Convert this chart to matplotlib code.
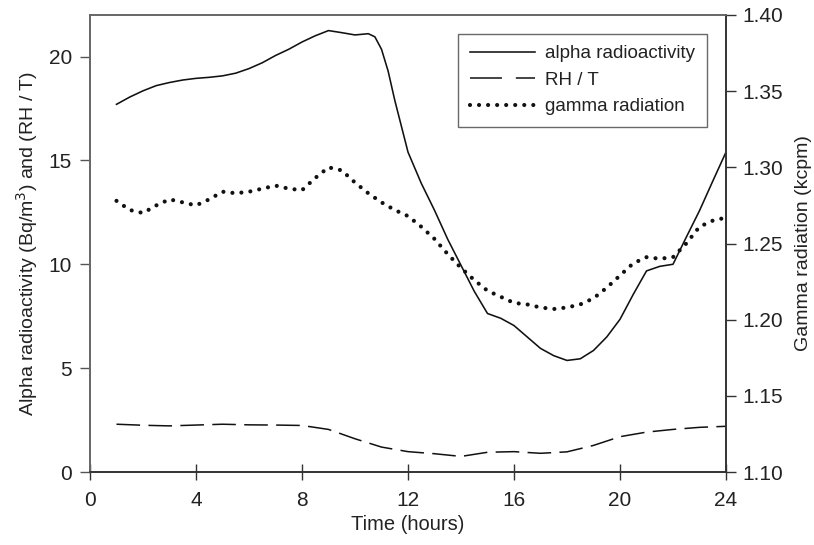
import matplotlib
matplotlib.use("Agg")
import matplotlib.pyplot as plt
from matplotlib.lines import Line2D

plt.rcParams['font.family'] = ['Liberation Sans', 'DejaVu Sans']
plt.rcParams['lines.scale_dashes'] = False

# Data
hours_alpha = [1, 1.5, 2, 2.5, 3, 3.5, 4, 4.5, 5, 5.5, 6, 6.5, 7, 7.5, 8, 8.5, 9, 9.5, 10,
               10.5, 10.75, 11, 11.25, 11.5, 12, 12.5, 13, 13.5, 14, 14.5, 15, 15.5, 16,
               16.5, 17, 17.5, 18, 18.5, 19, 19.5, 20, 20.5, 21, 21.5, 22, 22.5, 23, 23.5, 24]
alpha = [17.7, 18.05, 18.35, 18.6, 18.75, 18.87, 18.95, 19.0, 19.07, 19.2, 19.42, 19.7, 20.05,
         20.35, 20.7, 21.0, 21.25, 21.15, 21.04, 21.1, 20.95, 20.35, 19.3, 17.9, 15.4, 13.9,
         12.6, 11.2, 9.95, 8.7, 7.63, 7.4, 7.05, 6.5, 5.95, 5.6, 5.37, 5.45, 5.85, 6.5, 7.35,
         8.55, 9.68, 9.9, 10.0, 11.3, 12.58, 14.0, 15.4]

hours_rh = list(range(1, 25))
rh_t = [2.3, 2.25, 2.22, 2.26, 2.3, 2.27, 2.26, 2.24, 2.05, 1.6, 1.2, 0.98, 0.88, 0.75,
        0.95, 0.98, 0.9, 0.97, 1.28, 1.7, 1.92, 2.05, 2.15, 2.2]

hours_gamma = [1, 1.5, 2, 2.5, 3, 3.5, 4, 4.5, 5, 5.5, 6, 6.5, 7, 7.5, 8, 8.5, 9, 9.5, 10,
               10.5, 11, 11.5, 12, 12.5, 13, 13.5, 14, 14.5, 15, 15.5, 16, 16.5, 17, 17.5,
               18, 18.5, 19, 19.5, 20, 20.5, 21, 21.5, 22, 22.5, 23, 23.5, 24]
gamma = [1.278, 1.272, 1.270, 1.275, 1.279, 1.277, 1.275, 1.279, 1.284, 1.283, 1.284, 1.286,
         1.288, 1.286, 1.285, 1.293, 1.300, 1.298, 1.290, 1.283, 1.277, 1.272, 1.268, 1.261,
         1.253, 1.243, 1.234, 1.226, 1.219, 1.215, 1.211, 1.210, 1.208, 1.207, 1.208, 1.210,
         1.214, 1.221, 1.229, 1.237, 1.241, 1.240, 1.241, 1.250, 1.261, 1.265, 1.267]

x_ticks = [0, 4, 8, 12, 16, 20, 24]
left_ticks = [0, 5, 10, 15, 20]
right_ticks = [1.10, 1.15, 1.20, 1.25, 1.30, 1.35, 1.40]

fig = plt.figure(figsize=(8.14, 5.45), dpi=100)
ax = fig.add_axes([90/814, 1-472/545, (726-90)/814, (472-15)/545])
ax2 = ax.twinx()

dash_style = (0, (17, 6))
dot_style = (0, (0.01, 6.5))

ax.plot(hours_alpha, alpha, color='#111111', lw=1.15, solid_joinstyle='round')
ax.plot(hours_rh, rh_t, color='#111111', lw=1.1, linestyle=dash_style)
ax2.plot(hours_gamma, gamma, color='#111111', lw=3.0, linestyle=dot_style,
         dash_capstyle='round')

ax.set_xlim(0, 24)
ax.set_ylim(0, 22)
ax2.set_ylim(1.10, 1.40)
ax.set_xticks(x_ticks)
ax.set_yticks(left_ticks)
ax2.set_yticks(right_ticks)
ax2.set_yticklabels([f"{v:.2f}" for v in right_ticks])

ax.tick_params(axis='x', direction='inout', length=11, width=1, colors='#333333',
               labelsize=15, labelcolor='#222222', pad=8)
ax.tick_params(axis='y', direction='out', length=7, width=1, colors='#555555',
               labelsize=15, labelcolor='#222222', pad=6)
ax2.tick_params(axis='y', direction='out', length=7, width=1, colors='#333333',
                labelsize=15, labelcolor='#222222', pad=5)

for name, sp in ax.spines.items():
    sp.set_linewidth(1.2)
    sp.set_color('#666666' if name in ('left', 'top') else '#333333')
for name, sp in ax2.spines.items():
    sp.set_linewidth(1.2)
    sp.set_color('#666666' if name in ('left', 'top') else '#333333')

ax.set_xlabel('Time (hours)', fontsize=14.5, color='#222222', labelpad=4)
ax.set_ylabel('Alpha radioactivity (Bq/m$^3$) and (RH / T)', fontsize=14, color='#222222',
              labelpad=6)
ax2.set_ylabel('Gamma radiation (kcpm)', fontsize=14, color='#222222', labelpad=8)

handles = [
    Line2D([], [], color='#111111', lw=1.15),
    Line2D([], [], color='#111111', lw=1.1, linestyle=(0, (23, 10))),
    Line2D([], [], color='#111111', lw=3.0, linestyle=dot_style, dash_capstyle='round'),
]
labels = ['alpha radioactivity', 'RH / T', 'gamma radiation']
leg = ax2.legend(handles, labels, loc='upper right', bbox_to_anchor=(706.7/814, 1-34/545),
                 bbox_transform=fig.transFigure, fontsize=13.5, frameon=True, fancybox=False,
                 edgecolor='#444444', handlelength=3.5, handletextpad=0.55,
                 labelspacing=0.5, borderpad=0.6, borderaxespad=0)
leg.get_frame().set_linewidth(1.0)
for t in leg.get_texts():
    t.set_color('#222222')

fig.savefig('out.png', dpi=100)
